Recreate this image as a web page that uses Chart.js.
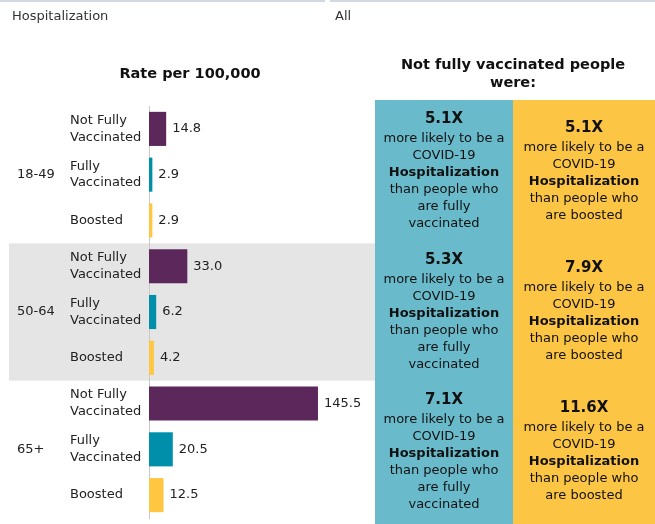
<!DOCTYPE html>
<html>
<head>
<meta charset="utf-8">
<script src="https://cdn.jsdelivr.net/npm/chart.js@4/dist/chart.umd.min.js"></script>
<style>
  html, body { margin: 0; padding: 0; background: #fff; }
  #wrap { position: relative; width: 655px; height: 524px; overflow: hidden; }
</style>
</head>
<body>
<div id="wrap"><canvas id="rateChart" width="655" height="524"></canvas></div>
<script>
// 年齡層與接種狀態
const ageGroups = ['18-49', '50-64', '65+'];
const statusLabels = [['Not Fully', 'Vaccinated'], ['Fully', 'Vaccinated'], ['Boosted']];

// 每十萬人住院率
const notFullyRates = [14.8, 33.0, 145.5];
const fullyRates = [2.9, 6.2, 20.5];
const boostedRates = [2.9, 4.2, 12.5];

// 倍數比較
const timesVsFully = ['5.1X', '5.3X', '7.1X'];
const timesVsBoosted = ['5.1X', '7.9X', '11.6X'];

const statusColors = ['#5c285c', '#008faa', '#fec641'];
const FONT = '"DejaVu Sans", Verdana, sans-serif';

// 攤平成九列
const rowLabels = [];
const rowValues = [];
const rowColors = [];
ageGroups.forEach((g, i) => {
    [notFullyRates[i], fullyRates[i], boostedRates[i]].forEach((v, k) => {
        rowLabels.push(statusLabels[k]);
        rowValues.push(v);
        rowColors.push(statusColors[k]);
    });
});

// 背景、標題與右側說明區塊
const decorPlugin = {
    id: 'decor',
    beforeDraw(chart) {
        const ctx = chart.ctx;
        const y = chart.scales.y;
        const half = (y.getPixelForValue(1) - y.getPixelForValue(0)) / 2;
        ctx.save();
        ctx.fillStyle = '#fff';
        ctx.fillRect(0, 0, chart.width, chart.height);

        // 頂部分隔線
        ctx.fillStyle = '#d0d9e2';
        ctx.fillRect(0, 0, 325, 2);
        ctx.fillRect(330, 0, 325, 2);

        ctx.fillStyle = '#333';
        ctx.font = '13px ' + FONT;
        ctx.textBaseline = 'middle';
        ctx.textAlign = 'left';
        ctx.fillText('Hospitalization', 12, 17);
        ctx.fillText('All', 335, 17);

        ctx.fillStyle = '#111';
        ctx.font = 'bold 14.5px ' + FONT;
        ctx.textAlign = 'center';
        ctx.fillText('Rate per 100,000', 190, 74);
        ctx.fillText('Not fully vaccinated people', 513, 65);
        ctx.fillText('were:', 513, 83);

        // 中間年齡層灰底
        const bandTop = y.getPixelForValue(3) - half;
        const bandBottom = y.getPixelForValue(5) + half;
        ctx.fillStyle = '#e5e5e5';
        ctx.fillRect(9, bandTop, chart.chartArea.right - 9, bandBottom - bandTop);
        ctx.restore();
    },
    afterDraw(chart) {
        const ctx = chart.ctx;
        const y = chart.scales.y;
        const area = chart.chartArea;
        const half = (y.getPixelForValue(1) - y.getPixelForValue(0)) / 2;
        ctx.save();

        // 年齡層標籤
        ctx.fillStyle = '#222';
        ctx.font = '13px ' + FONT;
        ctx.textAlign = 'left';
        ctx.textBaseline = 'middle';
        ageGroups.forEach((g, i) => {
            ctx.fillText(g, 17, y.getPixelForValue(i * 3 + 1));
        });

        // 右側兩欄
        const blueX = area.right, midX = 513, endX = chart.width;
        ctx.fillStyle = '#69bbcb';
        ctx.fillRect(blueX, 100, midX - blueX, chart.height - 100);
        ctx.fillStyle = '#fdc544';
        ctx.fillRect(midX, 100, endX - midX, chart.height - 100);

        const bounds = [100];
        bounds.push(y.getPixelForValue(3) - half);
        bounds.push(y.getPixelForValue(6) - half);
        bounds.push(chart.height);

        const drawBlock = (cx, top, bottom, big, tail) => {
            const lines = ['more likely to be a', 'COVID-19', '*Hospitalization', 'than people who'].concat(tail);
            const span = 19.5 + (lines.length - 1) * 17;
            let ty = (top + bottom) / 2 - span / 2;
            ctx.fillStyle = '#111';
            ctx.font = 'bold 15px ' + FONT;
            ctx.fillText(big, cx, ty);
            ty += 19.5;
            lines.forEach(l => {
                const bold = l.startsWith('*');
                ctx.font = (bold ? 'bold ' : '') + '13px ' + FONT;
                ctx.fillText(bold ? l.slice(1) : l, cx, ty);
                ty += 17;
            });
        };
        ctx.textAlign = 'center';
        ageGroups.forEach((g, i) => {
            drawBlock((blueX + midX) / 2, bounds[i], bounds[i + 1], timesVsFully[i], ['are fully', 'vaccinated']);
            drawBlock((midX + endX) / 2, bounds[i], bounds[i + 1], timesVsBoosted[i], ['are boosted']);
        });
        ctx.restore();
    },
    afterDatasetsDraw(chart) {
        // 長條數值
        const ctx = chart.ctx;
        const meta = chart.getDatasetMeta(0);
        ctx.save();
        ctx.fillStyle = '#222';
        ctx.font = '13px ' + FONT;
        ctx.textAlign = 'left';
        ctx.textBaseline = 'middle';
        meta.data.forEach((bar, i) => {
            ctx.fillText(rowValues[i].toFixed(1), bar.x + 6, bar.y);
        });
        ctx.restore();
    }
};

new Chart(document.getElementById('rateChart'), {
    type: 'bar',
    data: {
        labels: rowLabels,
        datasets: [{
            data: rowValues,
            backgroundColor: rowColors,
            borderWidth: 0,
            barPercentage: 0.745,
            categoryPercentage: 1
        }]
    },
    options: {
        indexAxis: 'y',
        responsive: false,
        animation: false,
        events: [],
        layout: { padding: { left: 70, right: 280, top: 106, bottom: 6 } },
        plugins: {
            legend: { display: false },
            tooltip: { enabled: false }
        },
        scales: {
            x: {
                display: false,
                min: 0,
                max: 194.6
            },
            y: {
                afterFit(scale) {
                    scale.width = 79;
                    scale.paddingTop = 0;
                    scale.paddingBottom = 0;
                },
                grid: { display: false },
                border: { display: true, color: '#c8c8c8', dash: [2, 2], width: 1 },
                ticks: {
                    crossAlign: 'far',
                    color: '#222',
                    font: { family: FONT, size: 13, lineHeight: 1.3 }
                }
            }
        }
    },
    plugins: [decorPlugin]
});
</script>
</body>
</html>
